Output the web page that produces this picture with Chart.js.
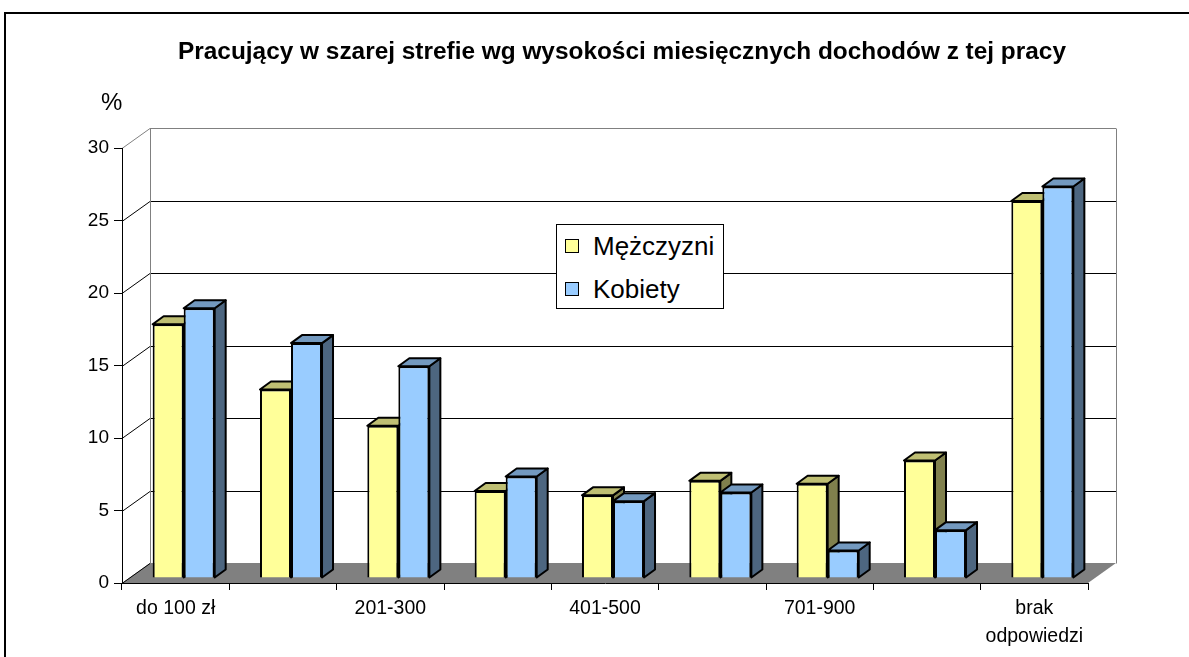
<!DOCTYPE html>
<html lang="pl">
<head>
<meta charset="utf-8">
<title>Pracujący w szarej strefie</title>
<script src="https://cdn.jsdelivr.net/npm/chart.js@4.4.1/dist/chart.umd.min.js"></script>
<style>
  body { margin: 0; width: 1189px; height: 657px; overflow: hidden; background: #fff; font-family: "Liberation Sans", Arial, sans-serif; }
  #frame { position: absolute; left: 4px; top: 12px; width: 1300px; height: 800px; border: 2px solid #000; }
  #chart { position: absolute; left: 0; top: 0; }
  #title { position: absolute; left: 622px; top: 37px; transform: translateX(-50%); white-space: nowrap; font-weight: bold; font-size: 24.4px; color: #000; }
  #unit { position: absolute; left: 101px; top: 88px; font-size: 24px; color: #000; }
  #legend { position: absolute; left: 556px; top: 224px; width: 166px; height: 83px; background: #fff; border: 1px solid #000; }
  #legend div { position: absolute; left: 8px; font-size: 26px; line-height: 30px; white-space: nowrap; }
  #legend span { display: inline-block; width: 12px; height: 12px; border: 1px solid #000; margin-right: 14px; vertical-align: 2px; }
</style>
</head>
<body>
<div id="frame"></div>
<canvas id="chart" width="1189" height="657"></canvas>
<div id="title">Pracujący w szarej strefie wg wysokości miesięcznych dochodów z tej pracy</div>
<div id="unit">%</div>
<div id="legend"></div>
<script>
// categories (only every other one is labelled on the axis, like in the original)
const categories = ['do 100 zł', '101-200', '201-300', '301-400', '401-500', '501-700', '701-900', 'powyżej 900', ['brak', 'odpowiedzi']];
const seriesNames = ['Mężczyzni', 'Kobiety'];
const men = [17.5, 13.0, 10.5, 6.0, 5.7, 6.7, 6.5, 8.1, 26.0];
const women = [18.6, 16.2, 14.6, 7.0, 5.3, 5.9, 1.9, 3.3, 27.0];
const yTicks = [0, 5, 10, 15, 20, 25, 30];

// colours: front, top, side
const faceColors = [
    ['#FFFF99', '#BFBF73', '#80804D'],
    ['#99CCFF', '#7399BF', '#4D6680']
];

// 3d look: wall depth and bar depth in pixels
const WALL_DX = 28, WALL_DY = 20;
const BAR_SHIFT_X = 8, BAR_SHIFT_Y = 5;
const BAR_DX = 11, BAR_DY = 8;

// Draw back wall, side wall and floor under everything
const walls = {
    id: 'walls',
    beforeDraw(chart) {
        const ctx = chart.ctx;
        const x = chart.scales.x, y = chart.scales.y;
        const L = x.left, R = x.right, B = y.bottom;
        ctx.save();
        ctx.lineWidth = 1;

        // floor
        ctx.fillStyle = '#808080';
        ctx.beginPath();
        ctx.moveTo(L, B);
        ctx.lineTo(R, B);
        ctx.lineTo(R + WALL_DX, B - WALL_DY);
        ctx.lineTo(L + WALL_DX, B - WALL_DY);
        ctx.closePath();
        ctx.fill();

        // gridlines on back wall + diagonals on side wall
        yTicks.forEach(v => {
            const py = Math.round(y.getPixelForValue(v)) + 0.5;
            const top = v === yTicks[yTicks.length - 1];
            ctx.strokeStyle = top ? '#808080' : '#000';
            ctx.beginPath();
            ctx.moveTo(L, py);
            ctx.lineTo(L + WALL_DX, py - WALL_DY);
            if (v > 0) ctx.lineTo(R + WALL_DX, py - WALL_DY);
            ctx.stroke();
        });

        // wall edges
        const yTop = Math.round(y.getPixelForValue(30)) + 0.5 - WALL_DY;
        const yBot = Math.round(y.getPixelForValue(0)) + 0.5 - WALL_DY;
        ctx.strokeStyle = '#808080';
        ctx.beginPath();
        ctx.moveTo(L + WALL_DX + 0.5, yTop);
        ctx.lineTo(L + WALL_DX + 0.5, yBot);
        ctx.moveTo(R + WALL_DX + 0.5, yTop);
        ctx.lineTo(R + WALL_DX + 0.5, yBot);
        ctx.stroke();
        ctx.restore();
    }
};

// Draw the bars per category so the faces overlap the right way
const bars3d = {
    id: 'bars3d',
    beforeDatasetsDraw(chart) {
        const ctx = chart.ctx;
        const metas = chart.data.datasets.map((d, i) => chart.getDatasetMeta(i));
        ctx.save();
        ctx.translate(BAR_SHIFT_X, -BAR_SHIFT_Y);
        ctx.lineWidth = 2;
        ctx.lineJoin = 'round';
        ctx.strokeStyle = '#000';
        for (let i = 0; i < categories.length; i++) {
            metas.forEach((meta, k) => {
                const bar = meta.data[i];
                const left = bar.x - bar.width / 2, right = bar.x + bar.width / 2;
                const top = bar.y, base = bar.base;

                // side face
                ctx.fillStyle = faceColors[k][2];
                ctx.beginPath();
                ctx.moveTo(right, top);
                ctx.lineTo(right + BAR_DX, top - BAR_DY);
                ctx.lineTo(right + BAR_DX, base - BAR_DY);
                ctx.lineTo(right, base);
                ctx.closePath();
                ctx.fill();
                ctx.stroke();

                // top face
                ctx.fillStyle = faceColors[k][1];
                ctx.beginPath();
                ctx.moveTo(left, top);
                ctx.lineTo(left + BAR_DX, top - BAR_DY);
                ctx.lineTo(right + BAR_DX, top - BAR_DY);
                ctx.lineTo(right, top);
                ctx.closePath();
                ctx.fill();
                ctx.stroke();

                // front face, drawn by the library element
                bar.draw(ctx);
            });
        }
        ctx.restore();
        return false;
    }
};

const ctx = document.getElementById('chart').getContext('2d');
const chart = new Chart(ctx, {
    type: 'bar',
    data: {
        labels: categories,
        datasets: [
            { label: seriesNames[0], data: men, backgroundColor: faceColors[0][0], borderColor: '#000', borderWidth: 2 },
            { label: seriesNames[1], data: women, backgroundColor: faceColors[1][0], borderColor: '#000', borderWidth: 2 }
        ]
    },
    options: {
        responsive: false,
        animation: false,
        events: [],
        layout: { padding: { top: 148, right: 101, left: 0, bottom: 0 } },
        datasets: { bar: { categoryPercentage: 0.578, barPercentage: 1 } },
        plugins: {
            legend: { display: false },
            title: { display: false },
            tooltip: { enabled: false }
        },
        scales: {
            x: {
                afterFit: s => { s.height = 74; },
                grid: { display: true, drawOnChartArea: false, offset: true, color: '#000', tickLength: 7, tickWidth: 1 },
                border: { display: true, color: '#000', width: 1 },
                ticks: {
                    autoSkip: false,
                    maxRotation: 0,
                    padding: 4,
                    color: '#000',
                    font: { family: '"Liberation Sans", Arial, sans-serif', size: 19.5, lineHeight: 1.45 },
                    callback: function (value, index) {
                        return index % 2 === 0 ? this.getLabelForValue(value) : '';
                    }
                }
            },
            y: {
                min: 0,
                max: 30,
                afterFit: s => { s.width = 122; },
                grid: { display: true, drawOnChartArea: false, color: '#000', tickLength: 8 },
                border: { display: true, color: '#000', width: 1 },
                ticks: {
                    stepSize: 5,
                    padding: 5,
                    color: '#000',
                    font: { family: '"Liberation Sans", Arial, sans-serif', size: 19 }
                }
            }
        }
    },
    plugins: [walls, bars3d]
});

// legend as html, built from the datasets
const legend = document.getElementById('legend');
chart.data.datasets.forEach((ds, i) => {
    const row = document.createElement('div');
    row.style.top = (6 + i * 43) + 'px';
    const box = document.createElement('span');
    box.style.background = ds.backgroundColor;
    row.appendChild(box);
    row.appendChild(document.createTextNode(ds.label));
    legend.appendChild(row);
});
</script>
</body>
</html>
